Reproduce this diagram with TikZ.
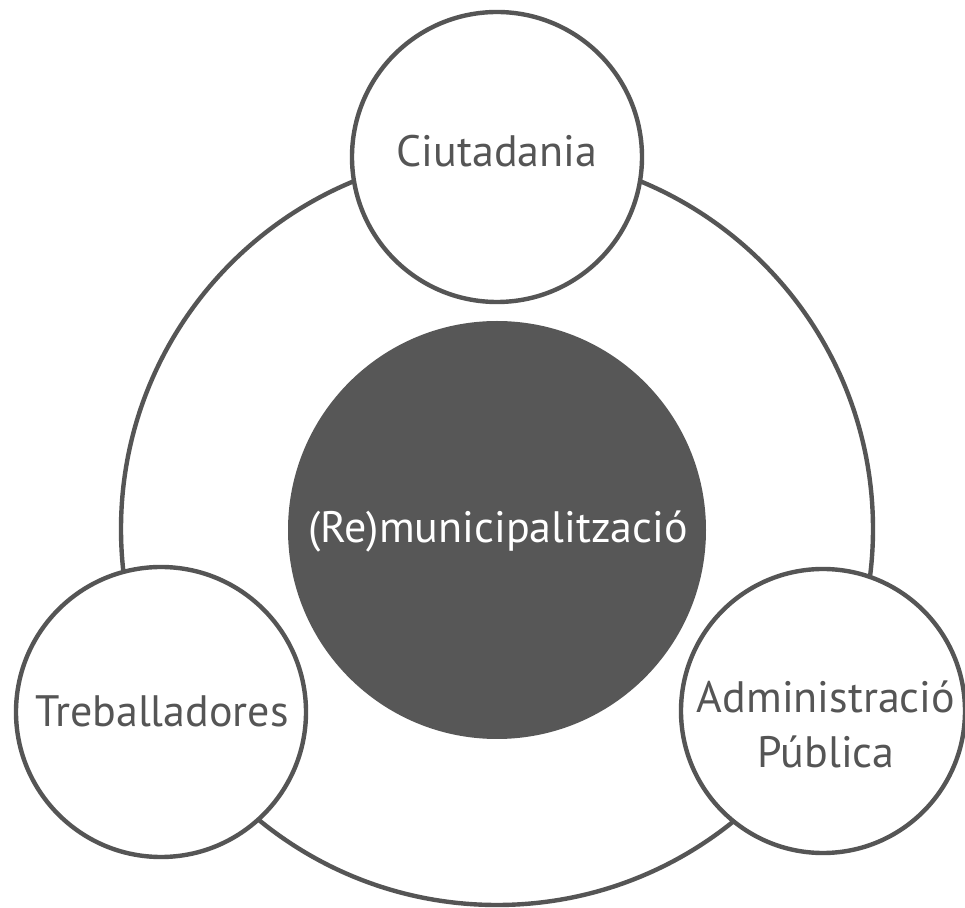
\documentclass[tikz,border=0pt]{standalone}
\usepackage{fontspec}
\setmainfont{PT Sans}
\definecolor{ink}{HTML}{555555}
\definecolor{hub}{HTML}{575757}
\begin{document}
\begin{tikzpicture}[x=0.5pt,y=-0.5pt,
  ringline/.style={draw=ink,line width=2.2pt,circle,inner sep=0pt},
  satellite/.style={draw=ink,line width=2.2pt,circle,inner sep=0pt,fill=white,minimum size=145pt},
  lbl/.style={text=ink,font=\fontsize{22}{26}\selectfont,anchor=base,inner sep=0pt,align=center},
]
\useasboundingbox[fill=white] (0,0) rectangle (965,908);
\node[ringline,minimum size=376pt] (ring) at (497,529) {};
\node[circle,fill=hub,inner sep=0pt,minimum size=209pt] (hubc) at (497,530) {};
\node[satellite] (top) at (497,157) {};
\node[satellite] (left) at (161,712) {};
\node[satellite,minimum size=142pt] (right) at (823,711) {};
\node[lbl] (ttop) at (497,167) {Ciutadania};
\node[lbl] (tleft) at (162,727) {Treballadores};
\node[lbl,text=white] (thub) at (498,543) {(Re)municipalització};
\node[lbl] (tright1) at (826,713) {Administració};
\node[lbl] (tright2) at (826,768) {Pública};
\end{tikzpicture}
\end{document}
